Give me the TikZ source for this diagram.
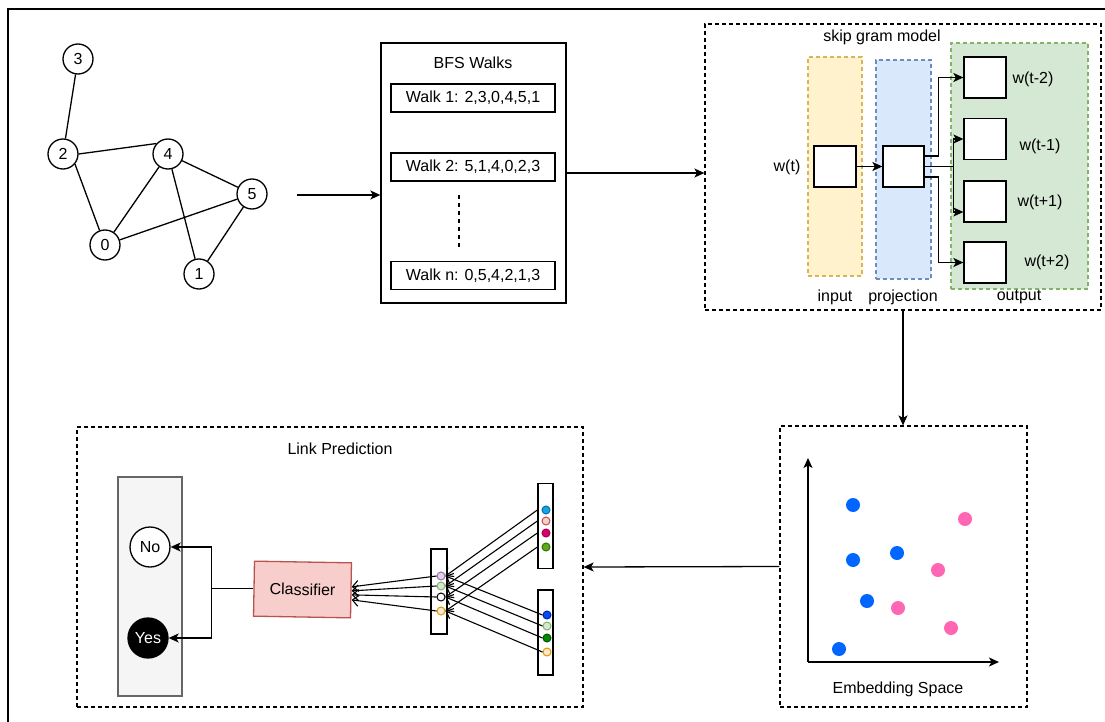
\documentclass[tikz,border=0pt]{standalone}
\usepackage{fontspec}
\setmainfont{Liberation Sans}
\usetikzlibrary{arrows.meta,calc}
\definecolor{inFill}{HTML}{FFF2CC}\definecolor{inDraw}{HTML}{D6B656}
\definecolor{prFill}{HTML}{DAE8FC}\definecolor{prDraw}{HTML}{6C8EBF}
\definecolor{ouFill}{HTML}{D5E8D4}\definecolor{ouDraw}{HTML}{82B366}
\definecolor{clsFill}{HTML}{F8CECC}\definecolor{clsDraw}{HTML}{B85450}
\definecolor{resFill}{HTML}{F5F5F5}\definecolor{resDraw}{HTML}{666666}
\definecolor{eBlue}{HTML}{0066FF}\definecolor{ePink}{HTML}{FF66B3}
\definecolor{cA}{HTML}{1BA1E2}\definecolor{cAd}{HTML}{006EAF}
\definecolor{cB}{HTML}{F8CECC}\definecolor{cBd}{HTML}{B85450}
\definecolor{cC}{HTML}{D80073}\definecolor{cCd}{HTML}{A50040}
\definecolor{cD}{HTML}{60A917}\definecolor{cDd}{HTML}{2D7600}
\definecolor{cE}{HTML}{0050EF}\definecolor{cEd}{HTML}{001DBC}
\definecolor{cF}{HTML}{D5E8D4}\definecolor{cFd}{HTML}{82B366}
\definecolor{cG}{HTML}{008A00}\definecolor{cGd}{HTML}{005700}
\definecolor{cH}{HTML}{FFE6CC}\definecolor{cHd}{HTML}{D79B00}
\definecolor{cI}{HTML}{E1D5E7}\definecolor{cId}{HTML}{9673A6}
\begin{document}
\begin{tikzpicture}[x=1pt,y=-1pt,
  font=\fontsize{16}{19}\selectfont,
  line width=1.3pt,
  arr/.style={-{Stealth[length=10pt,width=9pt,inset=2.5pt]}},
  oarr/.style={-{Straight Barb[length=6pt,width=11pt]}, line width=1.1pt},
  gnode/.style={circle, draw, minimum size=30pt, inner sep=0pt},
  box/.style={draw, inner sep=0pt},
  dbox/.style={draw, inner sep=0pt, dash pattern=on 4pt off 3pt, line width=1.2pt},
  colbox/.style={draw, inner sep=0pt, dash pattern=on 4pt off 3pt, line width=1.2pt},
  edot/.style={circle, inner sep=0pt, minimum size=14pt},
  sdot/.style={circle, draw, inner sep=0pt, minimum size=8pt, line width=1pt},
  vbox/.style={draw, inner sep=0pt, fill=white, minimum width=15pt, minimum height=85pt}]
\useasboundingbox (0,0) rectangle (1105,722);
% outer frame
\draw[line width=1.6pt] (8,722) -- (8,9) -- (1105,9);
% graph
\node[gnode] (n3) at (78,59) {3};
\node[gnode] (n2) at (63,154) {2};
\node[gnode] (n4) at (168,154) {4};
\node[gnode] (n5) at (252,194) {5};
\node[gnode] (n0) at (105,245) {0};
\node[gnode] (n1) at (199,274) {1};
\draw (n3) -- (n2);
\draw (n2.east) -- (n4.138);
\draw (n2.-40) -- (n0);
\draw (n4) -- (n0);
\draw (n4) -- (n5);
\draw (n4) -- (n1);
\draw (n5) -- (n0);
\draw (n5) -- (n1);
% BFS walks
\node[box, minimum width=185pt, minimum height=260pt] (bfs) at (473.5,173) {};
\node (bfst) at (473,63) {BFS Walks};
\node[box, minimum width=164pt, minimum height=28pt] (w1) at (473,98) {Walk 1: 2,3,0,4,5,1};
\node[box, minimum width=164pt, minimum height=28pt] (w2) at (473,167) {Walk 2: 5,1,4,0,2,3};
\node[box, minimum width=164pt, minimum height=28pt] (wn) at (473,275.5) {Walk n: 0,5,4,2,1,3};
\coordinate (dtop) at (459,195);
\coordinate (dbot) at (459,248);
\draw[dash pattern=on 4pt off 4pt] (dtop) -- (dbot);
\coordinate (gout) at (297,195);
\draw[arr] (gout) -- (gout -| bfs.west);
% skip gram
\node[dbox, minimum width=396pt, minimum height=286pt] (skip) at (903,167) {};
\node (skipt) at (882,37) {skip gram model};
\node[colbox, fill=inFill, draw=inDraw, minimum width=54pt, minimum height=219pt] (incol) at (835,166.5) {};
\node[colbox, fill=prFill, draw=prDraw, minimum width=55pt, minimum height=219pt] (prcol) at (903.5,169.5) {};
\node[colbox, fill=ouFill, draw=ouDraw, minimum width=137pt, minimum height=246pt] (oucol) at (1019.5,166) {};
\node[box, fill=white, minimum width=42pt, minimum height=41pt] (is) at (835,166.5) {};
\node[box, fill=white, minimum width=41pt, minimum height=41pt] (ps) at (903.5,166.5) {};
\node[box, fill=white, minimum width=42pt, minimum height=41pt] (o1) at (985,77.5) {};
\node[box, fill=white, minimum width=42pt, minimum height=41pt] (o2) at (985,139) {};
\node[box, fill=white, minimum width=42pt, minimum height=41pt] (o3) at (985,201.5) {};
\node[box, fill=white, minimum width=42pt, minimum height=41pt] (o4) at (985,262.5) {};
\node (wt) at (787,167) {w(t)};
\node (l1) at (1033,79) {w(t-2)};
\node (l2) at (1040,146) {w(t-1)};
\node (l3) at (1040,202) {w(t+1)};
\node (l4) at (1047,262) {w(t+2)};
\node (lin) at (835,297) {input};
\node (lpr) at (903,297) {projection};
\node (lou) at (1019,297) {output};
\draw[arr] (is) -- (ps);
\draw[arr] ([yshift=10.5pt]ps.east) -- ++(14,0) |- (o1.west);
\draw[arr] (ps.east) -- ++(29,0) |- (o2.west);
\draw[arr] (ps.east) -- ++(29,0) |- ([yshift=-10.5pt]o3.west);
\draw[arr] ([yshift=-10.5pt]ps.east) -- ++(14,0) |- (o4.west);
\draw[arr] (bfs.east) -- (bfs.east -| skip.west);
% embedding space
\node[dbox, minimum width=247pt, minimum height=281pt] (emb) at (903.5,566.5) {};
\draw[arr] (skip.south) -- (skip.south |- emb.north);
\coordinate (org) at (808,662);
\coordinate (ytop) at (808,458);
\coordinate (xend) at (999,662);
\draw[arr] (org) -- (ytop);
\draw[arr] (org) -- (xend);
\node[edot, fill=eBlue] (b1) at (853,505) {};
\node[edot, fill=eBlue] (b2) at (853,560) {};
\node[edot, fill=eBlue] (b3) at (897,553) {};
\node[edot, fill=eBlue] (b4) at (867,601) {};
\node[edot, fill=eBlue] (b5) at (839,649) {};
\node[edot, fill=ePink] (p1) at (965,519) {};
\node[edot, fill=ePink] (p2) at (938,570) {};
\node[edot, fill=ePink] (p3) at (898,608) {};
\node[edot, fill=ePink] (p4) at (951,628) {};
\node (embt) at (898,689) {Embedding Space};
% link prediction
\node[dbox, minimum width=506pt, minimum height=280pt] (link) at (330,567) {};
\draw[arr] (emb.west) -- (link.east);
\node (linkt) at (340,449) {Link Prediction};
\node[draw=resDraw, fill=resFill, inner sep=0pt, minimum width=64pt, minimum height=219pt] (res) at (150,586.5) {};
\node[circle, draw, fill=white, minimum size=40pt, inner sep=0pt] (no) at (150,547) {No};
\node[circle, draw, fill=black, text=white, minimum size=40pt, inner sep=0pt] (yes) at (148,638) {Yes};
\node[draw=clsDraw, fill=clsFill, inner sep=0pt, minimum width=97pt, minimum height=55pt, rotate=-1] (cls) at (302.5,589.5) {Classifier};
\draw[arr] (cls.west) -- ++(-42,0) |- (no.east);
\draw[arr] (cls.west) -- ++(-42,0) |- (yes.east);
% vectors
\node[vbox, minimum width=16pt] (mv) at (439,591.5) {};
\node[vbox] (uv) at (545.5,526) {};
\node[vbox] (lv) at (545.5,632.5) {};
\node[sdot, fill=cI, draw=cId] (m1) at (441,576) {};
\node[sdot, fill=cF, draw=cFd] (m2) at (441,586) {};
\node[sdot, fill=white, draw=black] (m3) at (441,597) {};
\node[sdot, fill=cH, draw=cHd] (m4) at (441,611) {};
\node[sdot, fill=cA, draw=cAd] (u1) at (546,510) {};
\node[sdot, fill=cB, draw=cBd] (u2) at (546,521) {};
\node[sdot, fill=cC, draw=cCd] (u3) at (546,533) {};
\node[sdot, fill=cD, draw=cDd] (u4) at (546,547) {};
\node[sdot, fill=cE, draw=cEd] (d1) at (547,615) {};
\node[sdot, fill=cF, draw=cFd] (d2) at (547,626) {};
\node[sdot, fill=cG, draw=cGd] (d3) at (547,638) {};
\node[sdot, fill=cH, draw=cHd] (d4) at (547,652) {};
\foreach \i in {1,2,3,4}{
  \draw[oarr] (uv.west |- u\i) -- (m\i.east);
  \draw[oarr] (d\i.west) -- (m\i.east);
}
\draw[oarr] (m1.west) -- ([yshift=3.5pt]cls.east);
\draw[oarr] (m2.west) -- ([yshift=-0.5pt]cls.east);
\draw[oarr] (m3.west) -- ([yshift=-4.5pt]cls.east);
\draw[oarr] (m4.west) -- ([yshift=-9.5pt]cls.east);
\end{tikzpicture}
\end{document}
